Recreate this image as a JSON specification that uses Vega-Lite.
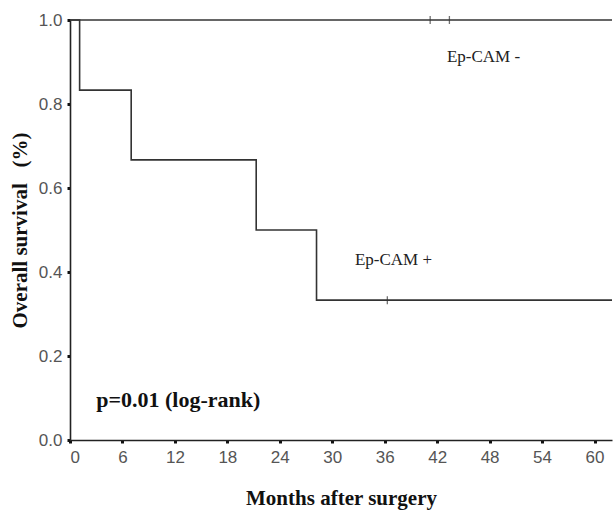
{
  "$schema": "https://vega.github.io/schema/vega-lite/v6.json",
  "autosize": "none",
  "width": 542,
  "height": 420,
  "padding": {"left": 70, "top": 20, "right": 2, "bottom": 75},
  "background": "white",
  "config": {"view": {"stroke": null}},
  "datasets": {
    "curves": [
      {"group": "Ep-CAM -", "month": 0, "survival": 1.0},
      {"group": "Ep-CAM -", "month": 62, "survival": 1.0},
      {"group": "Ep-CAM +", "month": 0, "survival": 1.0},
      {"group": "Ep-CAM +", "month": 1.1, "survival": 0.833},
      {"group": "Ep-CAM +", "month": 7.0, "survival": 0.667},
      {"group": "Ep-CAM +", "month": 21.3, "survival": 0.5},
      {"group": "Ep-CAM +", "month": 28.2, "survival": 0.333},
      {"group": "Ep-CAM +", "month": 62, "survival": 0.333}
    ],
    "censored": [
      {"group": "Ep-CAM -", "month": 41.2, "survival": 1.0},
      {"group": "Ep-CAM -", "month": 43.4, "survival": 1.0},
      {"group": "Ep-CAM +", "month": 36.3, "survival": 0.333}
    ],
    "labels": [
      {"text": "Ep-CAM -", "month": 47.3, "survival": 0.912},
      {"text": "Ep-CAM +", "month": 37.0, "survival": 0.429}
    ],
    "ptext": [
      {"text": "p=0.01 (log-rank)", "month": 3.0, "survival": 0.095}
    ]
  },
  "layer": [
    {
      "data": {"name": "curves"},
      "mark": {"type": "line", "interpolate": "step-after", "color": "#333333", "strokeWidth": 1.6},
      "encoding": {
        "x": {
          "field": "month", "type": "quantitative",
          "scale": {"domain": [0, 62], "nice": false, "zero": false},
          "axis": {
            "values": [0, 6, 12, 18, 24, 30, 36, 42, 48, 54, 60],
            "title": "Months after surgery",
            "titleFont": "Liberation Serif", "titleFontSize": 21, "titleFontWeight": "bold", "titleColor": "#111111",
            "titlePadding": 22,
            "labelFont": "Liberation Sans", "labelFontSize": 17, "labelColor": "#555555",
            "labelPadding": 6,
            "domainColor": "#222222", "domainWidth": 1.6,
            "tickColor": "#111111", "tickSize": 3, "tickWidth": 3,
            "grid": false
          }
        },
        "y": {
          "field": "survival", "type": "quantitative",
          "scale": {"domain": [0, 1], "nice": false},
          "axis": {
            "values": [0, 0.2, 0.4, 0.6, 0.8, 1.0],
            "format": ".1f",
            "title": "Overall survival\u00a0\u00a0\u00a0(%)",
            "titleFont": "Liberation Serif", "titleFontSize": 21, "titleFontWeight": "bold", "titleColor": "#111111",
            "titlePadding": 8,
            "labelFont": "Liberation Sans", "labelFontSize": 17, "labelColor": "#555555",
            "labelPadding": 5,
            "domainColor": "#222222", "domainWidth": 1.6,
            "tickColor": "#111111", "tickSize": 3, "tickWidth": 3,
            "grid": false
          }
        },
        "detail": {"field": "group", "type": "nominal"}
      }
    },
    {
      "data": {"name": "censored"},
      "mark": {"type": "tick", "orient": "vertical", "color": "#333333", "size": 8, "thickness": 1.3},
      "encoding": {
        "x": {"field": "month", "type": "quantitative"},
        "y": {"field": "survival", "type": "quantitative"}
      }
    },
    {
      "data": {"name": "labels"},
      "mark": {"type": "text", "font": "Liberation Serif", "fontSize": 17, "color": "#222222", "align": "center", "baseline": "middle"},
      "encoding": {
        "x": {"field": "month", "type": "quantitative"},
        "y": {"field": "survival", "type": "quantitative"},
        "text": {"field": "text", "type": "nominal"}
      }
    },
    {
      "data": {"name": "ptext"},
      "mark": {"type": "text", "font": "Liberation Serif", "fontSize": 22, "fontWeight": "bold", "color": "#111111", "align": "left", "baseline": "middle"},
      "encoding": {
        "x": {"field": "month", "type": "quantitative"},
        "y": {"field": "survival", "type": "quantitative"},
        "text": {"field": "text", "type": "nominal"}
      }
    }
  ]
}
